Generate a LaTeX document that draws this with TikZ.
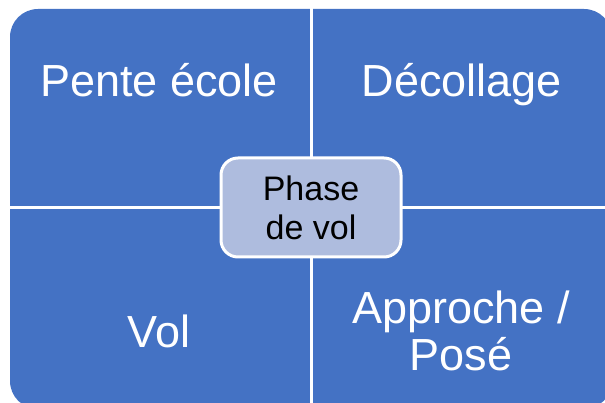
\documentclass[tikz,border=0pt]{standalone}
\usepackage{fontspec}
\setmainfont{Liberation Sans}
\definecolor{quadblue}{RGB}{68,114,196}
\definecolor{centerblue}{RGB}{174,188,222}
\tikzset{
  quadtext/.style={text=white, align=center, font=\fontsize{45}{47}\selectfont, inner sep=0pt},
  divider/.style={draw=white, line width=3pt},
  centerbox/.style={draw=white, line width=3pt, fill=centerblue, rounded corners=17pt,
    minimum width=180pt, minimum height=99pt, align=center, text=black,
    font=\fontsize{34}{38.7}\selectfont, inner sep=0pt}
}
\begin{document}
\begin{tikzpicture}[x=1pt,y=-1pt]
\useasboundingbox (0,0) rectangle (605,403);
\clip (0,0) rectangle (605,403);
\fill[quadblue, rounded corners=28pt] (10,9) rectangle (612,409);
\coordinate (top) at (311,0);
\coordinate (bottom) at (311,420);
\coordinate (left) at (0,208);
\coordinate (right) at (620,208);
\draw[divider] (top) -- (bottom);
\draw[divider] (left) -- (right);
\node[quadtext, anchor=base] (q1) at (159,97) {Pente école};
\node[quadtext, anchor=base] (q2) at (462,97) {Décollage};
\node[quadtext, anchor=base] (q3) at (159,347) {Vol};
\node[quadtext, anchor=base] (q4) at (461,370) {Approche /\\Posé};
\node[centerbox] (c) at (311,207.5) {Phase\\de vol};
\end{tikzpicture}
\end{document}
